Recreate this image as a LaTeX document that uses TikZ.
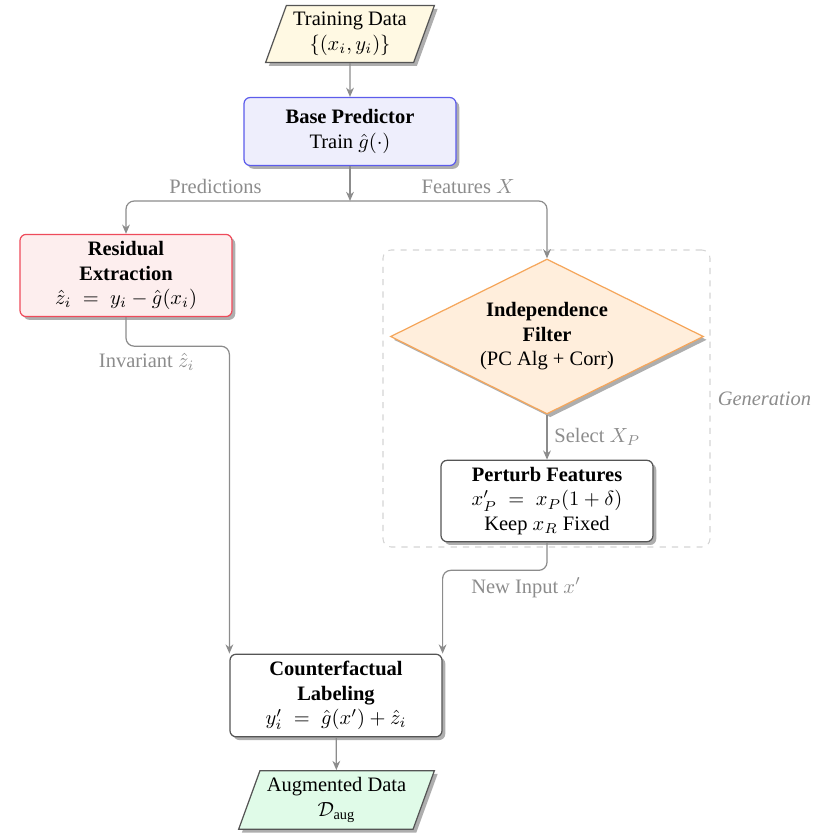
\documentclass[tikz,border=0pt]{standalone}
\usepackage{amsmath}
\usepackage[no-math]{fontspec}
\setmainfont{Liberation Serif}
\usetikzlibrary{shapes.geometric,arrows.meta,shadows}
\newdimen\pxu \pxu=0.488pt
\definecolor{linegray}{HTML}{8C8C8C}
\definecolor{boxgray}{HTML}{555555}
\definecolor{gengray}{HTML}{D4D4D4}
\definecolor{tdfill}{HTML}{FFF9E3}
\definecolor{bpfill}{HTML}{EEEEFC}
\definecolor{bpdraw}{HTML}{5C5CEB}
\definecolor{refill}{HTML}{FDEEEE}
\definecolor{redraw}{HTML}{EE4B5B}
\definecolor{iffill}{HTML}{FFEEDC}
\definecolor{ifdraw}{HTML}{F5A65B}
\definecolor{agfill}{HTML}{E0FBE8}
\begin{document}
\begin{tikzpicture}[x=0.488pt,y=-0.488pt,
  basestyle/.style={draw, line width=0.6pt, align=center,
    drop shadow={shadow xshift=1.6pt, shadow yshift=-1.6pt, fill=black!45, opacity=0.7}},
  procbox/.style={basestyle, rectangle, rounded corners=3pt, minimum width=212\pxu},
  iobox/.style={basestyle, trapezium, trapezium left angle=70, trapezium right angle=110,
    trapezium stretches body, draw=boxgray},
  conn/.style={draw=linegray, line width=0.6pt, -{Stealth[length=4.5pt,width=3.8pt]}, rounded corners=4pt},
  lbl/.style={text=linegray}
]
\useasboundingbox (0,0) rectangle (820,839);

\node[draw=gengray, dashed, line width=0.5pt, rounded corners=4pt,
      minimum width=327\pxu, minimum height=297\pxu] (gen) at (546.5,398.5) {};
\node[right, text=linegray, font=\itshape] (genlbl) at (gen.east) {Generation};

\node[iobox, fill=tdfill, minimum width=165\pxu, minimum height=56\pxu] (train) at (350,34)
  {Training Data\\$\{(x_i,y_i)\}$};
\node[procbox, fill=bpfill, draw=bpdraw, minimum height=68\pxu] (base) at (350,131.5)
  {\textbf{Base Predictor}\\Train $\hat{g}(\cdot)$};
\node[procbox, fill=refill, draw=redraw, minimum height=81\pxu] (res) at (126,275.5)
  {\textbf{Residual}\\\textbf{Extraction}\\$\hat{z}_i \;=\; y_i - \hat{g}(x_i)$};
\node[basestyle, diamond, shape aspect=2, fill=iffill, draw=ifdraw,
      minimum width=313\pxu, minimum height=155\pxu, inner sep=0pt] (filt) at (547,336.5)
  {\textbf{Independence}\\\textbf{Filter}\\(PC Alg + Corr)};
\node[procbox, fill=white, draw=boxgray, minimum height=79\pxu] (pert) at (547,501)
  {\textbf{Perturb Features}\\$x'_P \;=\; x_P(1+\delta)$\\Keep $x_R$ Fixed};
\node[procbox, fill=white, draw=boxgray, minimum height=80\pxu] (cf) at (336,695.5)
  {\textbf{Counterfactual}\\\textbf{Labeling}\\$y'_i \;=\; \hat{g}(x') + \hat{z}_i$};
\node[iobox, fill=agfill, minimum width=189\pxu, minimum height=56\pxu] (aug) at (336.5,800)
  {Augmented Data\\$\mathcal{D}_{\text{aug}}$};

\coordinate (split) at (350,201);
\draw[conn] (train) -- (base);
\draw[conn] (base) -- (split);
\draw[conn] (split) -| node[lbl, pos=0.3, above] {Predictions} (res);
\draw[conn] (split) -| node[lbl, pos=0.3, above] {Features $X$} (filt);
\draw[conn] (res.south) -- ++(0,29) -| node[lbl, pos=0.1, below] {Invariant $\hat{z}_i$} (cf.north west);
\draw[conn] (filt) -- node[lbl, right] {Select $X_P$} (pert);
\draw[conn] (pert.south) -- ++(0,28) -| node[lbl, pos=0.1, below] {New Input $x'$} (cf.north east);
\draw[conn] (cf) -- (aug);
\end{tikzpicture}
\end{document}
